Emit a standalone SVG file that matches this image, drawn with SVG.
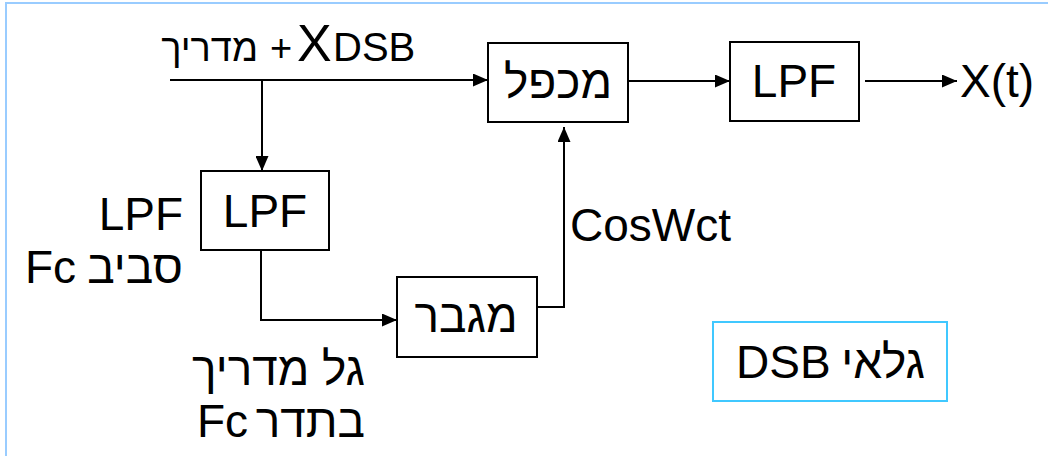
<svg xmlns="http://www.w3.org/2000/svg" width="1048" height="456" viewBox="0 0 1048 456">
  <style>
    .box { fill: #ffffff; stroke: #000000; stroke-width: 2; }
    .wire { fill: none; stroke: #000000; stroke-width: 2; }
    .t { font-family: "Liberation Sans", Arial, sans-serif; font-size: 46px; fill: #000000; }
    .s { font-size: 38px; }
    .mid { text-anchor: middle; }
    .end { text-anchor: end; }
  </style>
  <defs>
    <marker id="arrow" markerUnits="userSpaceOnUse" markerWidth="15" markerHeight="13" refX="15" refY="6.5" orient="auto">
      <path d="M0,0 L15,6.5 L0,13 Z" fill="#000000"/>
    </marker>
  </defs>

  <!-- slide frame -->
  <rect x="6" y="3" width="1060" height="470" fill="#ffffff" stroke="#99ccff" stroke-width="2"/>

  <!-- connectors -->
  <g id="connectors">
    <path class="wire" d="M170,80 H488" marker-end="url(#arrow)"/>
    <path class="wire" d="M262,80 V171" marker-end="url(#arrow)"/>
    <path class="wire" d="M628,81 H730" marker-end="url(#arrow)"/>
    <path class="wire" d="M865,81 H957" marker-end="url(#arrow)"/>
    <path class="wire" d="M261,250 V320 H397" marker-end="url(#arrow)"/>
    <path class="wire" d="M537,307 H564 V127" marker-end="url(#arrow)"/>
  </g>

  <!-- input label -->
  <g id="input-label">
    <text class="t s end" x="258" y="61">מדריך</text>
    <text class="t s" x="270" y="61">+</text>
    <text class="t" x="297" y="61" style="font-size:52px">X</text>
    <text class="t s" x="333" y="61" style="font-size:40px">DSB</text>
  </g>

  <g id="multiplier">
    <rect class="box" x="488" y="43" width="140" height="79"/>
    <text class="t mid" x="558" y="98">מכפל</text>
  </g>

  <g id="lpf-out">
    <rect class="box" x="730" y="42" width="129" height="79"/>
    <text class="t mid" x="794" y="97">LPF</text>
  </g>

  <g id="output-label">
    <text class="t" x="960" y="97">X(t)</text>
  </g>

  <g id="lpf-carrier">
    <rect class="box" x="201" y="171" width="128" height="79"/>
    <text class="t mid" x="265" y="227">LPF</text>
    <text class="t end" x="183" y="230">LPF</text>
    <text class="t end" x="183" y="283">סביב</text>
    <text class="t end" x="76" y="283">Fc</text>
  </g>

  <g id="amplifier">
    <rect class="box" x="397" y="277" width="140" height="80"/>
    <text class="t mid" x="466" y="332">מגבר</text>
    <text class="t end" x="365" y="385">גל מדריך</text>
    <text class="t end" x="365" y="437">בתדר</text>
    <text class="t" x="197" y="437">Fc</text>
  </g>

  <g id="carrier-label">
    <text class="t" x="570" y="241">CosWct</text>
  </g>

  <g id="title">
    <rect x="713" y="322" width="234" height="79" fill="#ffffff" stroke="#40c8ff" stroke-width="2"/>
    <text class="t" x="736" y="378">DSB</text>
    <text class="t end" x="925" y="378">גלאי</text>
  </g>
</svg>
